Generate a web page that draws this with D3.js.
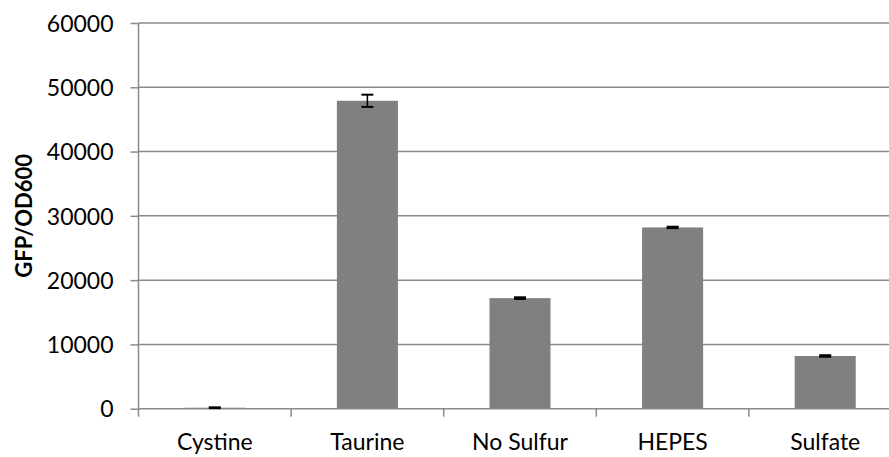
<!DOCTYPE html>
<html>
<head>
<meta charset="utf-8">
<script src="https://cdn.jsdelivr.net/npm/d3@7"></script>
<style>
  body { margin: 0; background: #fff; }
  text { font-family: Lato, "Open Sans", sans-serif; fill: #000; }
</style>
</head>
<body>
<div id="chart"></div>
<script>
// values
let categories = ['Cystine', 'Taurine', 'No Sulfur', 'HEPES', 'Sulfate'];
let values = [150, 47900, 17200, 28200, 8200];
let errors = [60, 950, 130, 110, 120];
let yTicks = [0, 10000, 20000, 30000, 40000, 50000, 60000];

let width = 889, height = 457;
let plotLeft = 138.5, plotRight = 901.5, plotTop = 23, plotBottom = 408.7;

let svg = d3.select('#chart').append('svg')
    .attr('width', width)
    .attr('height', height);

let x = d3.scaleBand()
    .domain(categories)
    .range([plotLeft, plotRight])
    .paddingInner(0.6)
    .paddingOuter(0.3);

let y = d3.scaleLinear()
    .domain([0, 60000])
    .range([plotBottom, plotTop]);

// gridlines
svg.append('g')
    .selectAll('line')
    .data(yTicks.filter(d => d > 0))
    .enter().append('line')
    .attr('x1', plotLeft).attr('x2', plotRight)
    .attr('y1', d => y(d)).attr('y2', d => y(d))
    .attr('stroke', '#8a8a8a')
    .attr('stroke-width', 1.5);

// bars
svg.append('g')
    .selectAll('rect')
    .data(categories)
    .enter().append('rect')
    .attr('x', d => x(d))
    .attr('width', x.bandwidth())
    .attr('y', (d, i) => y(values[i]))
    .attr('height', (d, i) => plotBottom - y(values[i]))
    .attr('fill', '#808080');

// y axis
let yAxis = svg.append('g')
    .attr('transform', `translate(${plotLeft},0)`)
    .call(d3.axisLeft(y).tickValues(yTicks).tickSize(8).tickPadding(17).tickFormat(d3.format('d')));
yAxis.select('.domain').attr('stroke', '#8a8a8a').attr('stroke-width', 1.5).attr('d', `M0,${plotTop}V${plotBottom}`);
yAxis.selectAll('.tick line').attr('stroke', '#8a8a8a').attr('stroke-width', 1.5);
yAxis.selectAll('.tick text')
    .style('font-size', '23px')
    .attr('dy', '0.36em');

// x axis, ticks sit on band boundaries
let step = x.step();
let boundaries = categories.map(d => x(d) - (step - x.bandwidth()) / 2);
let xAxis = svg.append('g');
xAxis.append('line')
    .attr('x1', plotLeft).attr('x2', plotRight)
    .attr('y1', plotBottom).attr('y2', plotBottom)
    .attr('stroke', '#8a8a8a')
    .attr('stroke-width', 1.5);
xAxis.selectAll('.xtick')
    .data(boundaries)
    .enter().append('line')
    .attr('class', 'xtick')
    .attr('x1', d => d).attr('x2', d => d)
    .attr('y1', plotBottom).attr('y2', plotBottom + 8)
    .attr('stroke', '#8a8a8a')
    .attr('stroke-width', 1.5);
xAxis.selectAll('text')
    .data(categories)
    .enter().append('text')
    .attr('x', d => x(d) + x.bandwidth() / 2)
    .attr('y', 442)
    .attr('dy', '0.36em')
    .attr('text-anchor', 'middle')
    .style('font-size', '23px')
    .text(d => d);

// error bars
let eb = svg.append('g')
    .selectAll('g')
    .data(categories)
    .enter().append('g');
let cx = d => x(d) + x.bandwidth() / 2;
eb.append('line')
    .attr('x1', cx).attr('x2', cx)
    .attr('y1', (d, i) => y(values[i] + errors[i]))
    .attr('y2', (d, i) => y(values[i] - errors[i]))
    .attr('stroke', '#000')
    .attr('stroke-width', 1.5);
eb.selectAll('.cap')
    .data((d, i) => [[d, values[i] + errors[i]], [d, values[i] - errors[i]]])
    .enter().append('line')
    .attr('class', 'cap')
    .attr('x1', d => cx(d[0]) - 6).attr('x2', d => cx(d[0]) + 6)
    .attr('y1', d => y(d[1])).attr('y2', d => y(d[1]))
    .attr('stroke', '#000')
    .attr('stroke-width', 2);

// y axis title
svg.append('text')
    .attr('transform', `translate(24,${(plotTop + plotBottom) / 2}) rotate(-90)`)
    .attr('text-anchor', 'middle')
    .attr('dy', '0.36em')
    .style('font-size', '22px')
    .style('font-weight', 'bold')
    .text('GFP/OD600');
</script>
</body>
</html>
